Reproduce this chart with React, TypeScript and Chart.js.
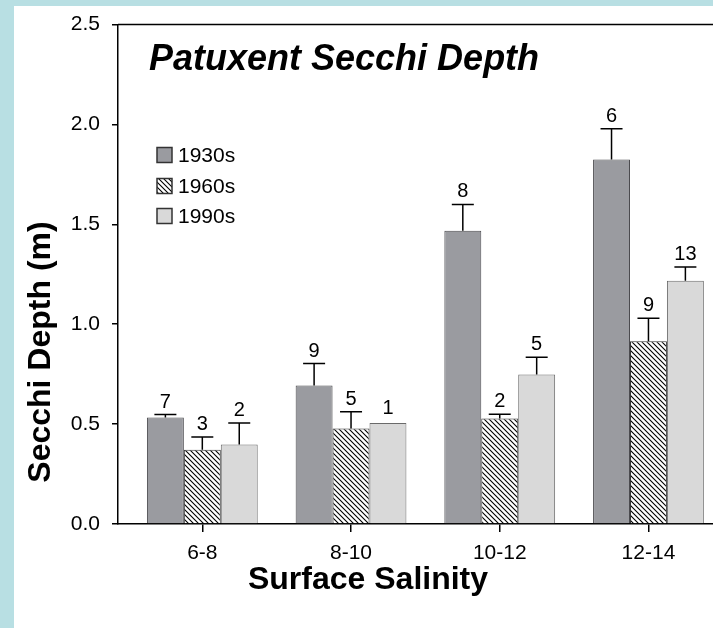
import React, { useEffect, useRef } from 'react';
import { Chart, registerables } from 'chart.js';

Chart.register(...registerables);

// Salinity classes along the x axis
const salinityBins = ['6-8', '8-10', '10-12', '12-14'];
const decades = ['1930s', '1960s', '1990s'];

// Mean Secchi depth (m) per salinity class
const depth1930s = [0.533, 0.693, 1.468, 1.825];
const depth1960s = [0.372, 0.478, 0.528, 0.915];
const depth1990s = [0.398, 0.505, 0.748, 1.218];

// Upper error (m) drawn above each bar
const err1930s = [0.015, 0.11, 0.132, 0.153];
const err1960s = [0.064, 0.084, 0.022, 0.115];
const err1990s = [0.107, 0, 0.087, 0.069];

// Number of observations printed above each bar
const n1930s = [7, 9, 8, 6];
const n1960s = [3, 5, 2, 9];
const n1990s = [2, 1, 5, 13];

const yTicks = [0, 0.5, 1.0, 1.5, 2.0, 2.5];

const FONT = "'Liberation Sans', Arial, Helvetica, sans-serif";

function makeHatch(): CanvasPattern | string {
  const s = 5;
  const c = document.createElement('canvas');
  c.width = s;
  c.height = s;
  const g = c.getContext('2d');
  if (!g) return '#fff';
  g.fillStyle = '#ffffff';
  g.fillRect(0, 0, s, s);
  g.strokeStyle = '#000000';
  g.lineWidth = 1.1;
  g.beginPath();
  g.moveTo(-1, -1);
  g.lineTo(s + 1, s + 1);
  g.moveTo(-1, s - 1);
  g.lineTo(1, s + 1);
  g.moveTo(s - 1, -1);
  g.lineTo(s + 1, 1);
  g.stroke();
  return g.createPattern(c, 'repeat') || '#fff';
}

const errors = [err1930s, err1960s, err1990s];
const counts = [n1930s, n1960s, n1990s];

const errorBarPlugin = {
  id: 'errorBars',
  afterDatasetsDraw(chart: any) {
    const ctx = chart.ctx;
    const yScale = chart.scales.y;
    ctx.save();
    chart.data.datasets.forEach((ds: any, di: number) => {
      const meta = chart.getDatasetMeta(di);
      meta.data.forEach((bar: any, i: number) => {
        const v = ds.data[i].y;
        const e = errors[di][i];
        const yBar = yScale.getPixelForValue(v);
        const yTop = yScale.getPixelForValue(v + e);
        const x = bar.x;
        if (e > 0) {
          ctx.strokeStyle = '#000';
          ctx.lineWidth = 1.5;
          ctx.beginPath();
          ctx.moveTo(x, yBar);
          ctx.lineTo(x, yTop);
          ctx.moveTo(x - 11, yTop);
          ctx.lineTo(x + 11, yTop);
          ctx.stroke();
        }
        ctx.fillStyle = '#000';
        ctx.font = `20px ${FONT}`;
        ctx.textAlign = 'center';
        ctx.textBaseline = 'alphabetic';
        ctx.fillText(String(counts[di][i]), x, yTop - (e > 0 ? 7 : 9));
      });
    });
    ctx.restore();
  },
};

const decorPlugin = {
  id: 'decor',
  afterDraw(chart: any) {
    const ctx = chart.ctx;
    const area = chart.chartArea;
    ctx.save();
    // top frame line
    ctx.strokeStyle = '#000';
    ctx.lineWidth = 1.5;
    ctx.beginPath();
    ctx.moveTo(area.left, area.top);
    ctx.lineTo(area.right, area.top);
    ctx.stroke();

    // title
    ctx.fillStyle = '#000';
    ctx.font = `italic bold 36px ${FONT}`;
    ctx.textAlign = 'left';
    ctx.textBaseline = 'alphabetic';
    ctx.fillText('Patuxent Secchi Depth', area.left + 31, area.top + 45);

    // x-axis title
    ctx.font = `bold 32px ${FONT}`;
    ctx.textAlign = 'center';
    ctx.fillText('Surface Salinity', 368, area.bottom + 65);

    // y-axis title
    ctx.save();
    ctx.translate(50, 352);
    ctx.rotate(-Math.PI / 2);
    ctx.font = `bold 32px ${FONT}`;
    ctx.textAlign = 'center';
    ctx.textBaseline = 'alphabetic';
    ctx.fillText('Secchi Depth (m)', 0, 0);
    ctx.restore();

    // legend
    const lx = area.left + 39;
    const rows = [155, 186, 216];
    chart.data.datasets.forEach((ds: any, i: number) => {
      const cy = rows[i];
      ctx.fillStyle = ds.backgroundColor;
      ctx.fillRect(lx, cy - 7.5, 15, 15);
      ctx.strokeStyle = '#333';
      ctx.lineWidth = 1.5;
      ctx.strokeRect(lx, cy - 7.5, 15, 15);
      ctx.fillStyle = '#000';
      ctx.font = `21px ${FONT}`;
      ctx.textAlign = 'left';
      ctx.textBaseline = 'middle';
      ctx.fillText(ds.label, lx + 21, cy + 1);
    });
    ctx.restore();
  },
};

export default function App() {
  const canvasRef = useRef<HTMLCanvasElement | null>(null);

  useEffect(() => {
    const canvas = canvasRef.current;
    if (!canvas) return;
    const hatch = makeHatch();
    const series = [depth1930s, depth1960s, depth1990s];
    const fills: any[] = ['#9a9ba0', hatch, '#d9d9d9'];
    const borders = ['#4a4a4e', '#333333', '#6a6a6a'];

    const chart = new Chart(canvas, {
      type: 'bar',
      data: {
        datasets: decades.map((label, di) => ({
          label,
          data: series[di].map((y, i) => ({ x: i, y })),
          backgroundColor: fills[di],
          borderColor: borders[di],
          borderWidth: 1,
          categoryPercentage: 0.745,
          barPercentage: 1,
        })),
      },
      options: {
        responsive: false,
        animation: false,
        devicePixelRatio: 1,
        layout: { padding: { top: 24, left: 0, right: 0, bottom: 0 } },
        plugins: {
          legend: { display: false },
          tooltip: { enabled: false },
          title: { display: false },
        },
        scales: {
          x: {
            type: 'linear',
            offset: false,
            min: -0.567,
            max: 3.434,
            afterBuildTicks: (s: any) => {
              s.ticks = salinityBins.map((_, i) => ({ value: i }));
            },
            afterFit: (s: any) => {
              s.height = 104;
            },
            ticks: {
              callback: (_v: any, i: number) => salinityBins[i],
              font: { family: FONT, size: 21 },
              color: '#000',
              padding: 9,
              maxRotation: 0,
              autoSkip: false,
            },
            grid: {
              offset: false,
              drawOnChartArea: false,
              drawTicks: true,
              tickLength: 8,
              color: '#000',
              lineWidth: 1.5,
            },
            border: { display: true, color: '#000', width: 1.5 },
          },
          y: {
            type: 'linear',
            min: 0,
            max: 2.5,
            afterBuildTicks: (s: any) => {
              s.ticks = yTicks.map((value) => ({ value }));
            },
            afterFit: (s: any) => {
              s.width = 118;
            },
            ticks: {
              callback: (v: any) => Number(v).toFixed(1),
              font: { family: FONT, size: 21 },
              color: '#000',
              padding: 12,
            },
            grid: {
              drawOnChartArea: false,
              drawTicks: true,
              tickLength: 6,
              color: '#000',
              lineWidth: 1.5,
            },
            border: { display: true, color: '#000', width: 1.5 },
          },
        },
      },
      plugins: [errorBarPlugin, decorPlugin],
    } as any);

    return () => chart.destroy();
  }, []);

  return (
    <div
      style={{
        position: 'fixed',
        left: 0,
        top: 0,
        width: 713,
        height: 628,
        background: '#b8dfe3',
        overflow: 'hidden',
      }}
    >
      <div
        style={{
          position: 'absolute',
          left: 14,
          top: 6,
          right: 0,
          bottom: 0,
          background: '#ffffff',
        }}
      />
      <canvas
        ref={canvasRef}
        width={713}
        height={628}
        style={{ position: 'absolute', left: 0, top: 0, display: 'block' }}
      />
    </div>
  );
}
